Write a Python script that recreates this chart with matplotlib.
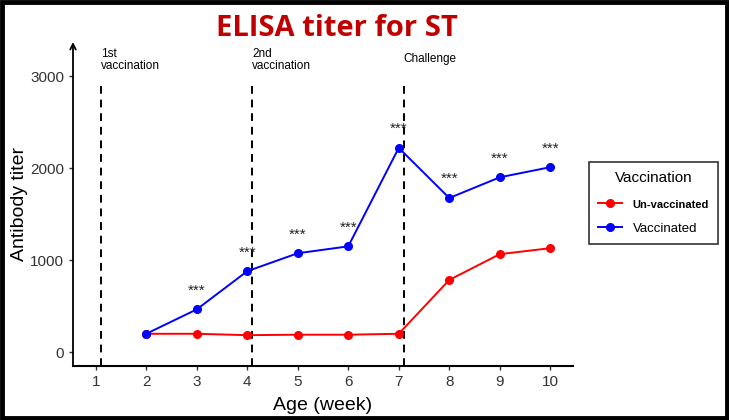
import numpy as np
import matplotlib
matplotlib.use('Agg')
import matplotlib.pyplot as plt
from matplotlib.patches import Rectangle

plt.rcParams['font.family'] = ['Liberation Sans', 'DejaVu Sans']

# data
weeks = [2, 3, 4, 5, 6, 7, 8, 9, 10]
vaccinated = [200, 465, 880, 1075, 1150, 2220, 1675, 1900, 2010]
unvaccinated = [200, 200, 185, 190, 190, 200, 785, 1065, 1130]
star_weeks = [3, 4, 5, 6, 7, 8, 9, 10]
events = [1.1, 4.1, 7.1]
event_labels = ['1st\nvaccination', '2nd\nvaccination', 'Challenge']

fig = plt.figure(figsize=(7.29, 4.2), dpi=100, facecolor='white')
ax = fig.add_axes([73/729, 1-366/420, 500/729, 324/420])

for xv in events:
    ax.plot([xv, xv], [-150, 2900], ls=(0, (4, 3)), c='black', lw=1.4, zorder=1)

ax.plot(weeks, unvaccinated, '-o', c='#FF0000', lw=1.4, ms=5.5, label='Un-vaccinated', zorder=3)
ax.plot(weeks, vaccinated, '-o', c='#0000FF', lw=1.4, ms=5.5, label='Vaccinated', zorder=3)

vac_by_week = dict(zip(weeks, vaccinated))
for w in star_weeks:
    ax.text(w, vac_by_week[w] + 205, '***', ha='center', va='center', fontsize=11, color='#222222')

for xv, lab in zip(events, event_labels):
    ax.text(xv, 3300 if '\n' in lab else 3250, lab, ha='left', va='top', fontsize=8.5,
            color='black', linespacing=0.9)

ax.set_xlim(0.55, 10.45)
ax.set_ylim(-150, 3370)
ax.set_xticks(range(1, 11))
ax.set_yticks([0, 1000, 2000, 3000])
ax.tick_params(labelsize=11, labelcolor='#333333', length=3, width=1, color='#333333')
ax.spines['top'].set_visible(False)
ax.spines['right'].set_visible(False)
ax.spines['left'].set_visible(False)
ax.spines['bottom'].set_linewidth(1.5)
ax.annotate('', xy=(0, 1.0), xycoords='axes fraction', xytext=(0, 0), textcoords='axes fraction',
            arrowprops=dict(arrowstyle='->', lw=1.3, color='black', shrinkA=0, shrinkB=0))
ax.set_xlabel('Age (week)', fontsize=14)
ax.set_ylabel('Antibody titer', fontsize=14)
ax.xaxis.set_label_coords(0.5, -0.095)
ax.yaxis.set_label_coords(-0.09, 0.5)

leg = ax.legend(title='Vaccination', loc='upper left', bbox_to_anchor=(589/729, 1-162/420),
                bbox_transform=fig.transFigure, frameon=True, fancybox=False, edgecolor='black',
                fontsize=9.5, title_fontsize=11, borderpad=0.7, labelspacing=1.0,
                handlelength=1.8, handletextpad=0.8, borderaxespad=0)
leg.get_frame().set_linewidth(1.2)
leg.get_texts()[0].set_fontweight('bold')
leg.get_texts()[0].set_fontsize(8)

fig.text(337/729, 1-28/420, 'ELISA titer for ST', ha='center', va='center', fontsize=21,
         fontweight='bold', color='#C00000', family='Open Sans')

fig.patches.append(Rectangle((0.003, 0.005), 0.994, 0.99, transform=fig.transFigure,
                             fill=False, edgecolor='black', lw=3.5))

fig.savefig('out.png', dpi=100)
